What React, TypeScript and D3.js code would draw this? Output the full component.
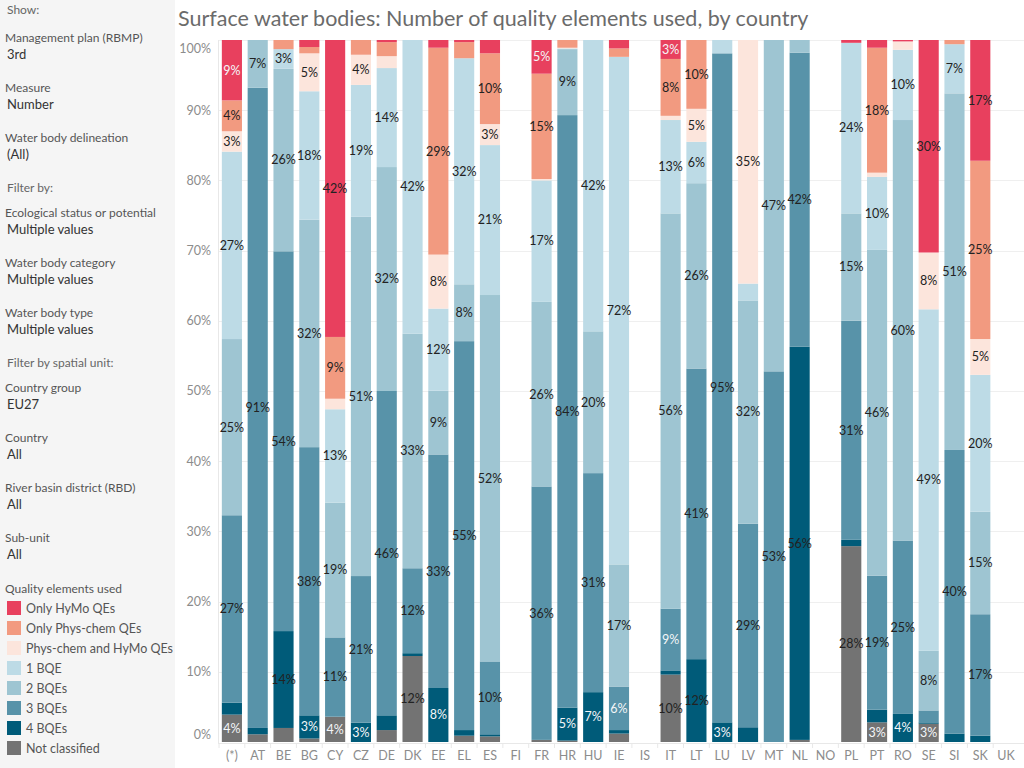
import React, { useEffect, useRef } from 'react';
import * as d3 from 'd3';

// Country codes along the x axis
const countries = [
  '(*)', 'AT', 'BE', 'BG', 'CY', 'CZ', 'DE', 'DK', 'EE', 'EL', 'ES', 'FI', 'FR', 'HR', 'HU', 'IE',
  'IS', 'IT', 'LT', 'LU', 'LV', 'MT', 'NL', 'NO', 'PL', 'PT', 'RO', 'SE', 'SI', 'SK', 'UK'
];

// Share of surface water bodies (%) per quality-element group, one value per country
const notClassified = [3.9, 1.1, 2.0, 0.5, 3.6, 0, 1.7, 12.25, 0, 0.9, 0.8, 0, 0.3, 0.2, 0, 1.2, 0, 9.6, 0, 0, 0, 0, 0.3, 0, 27.9, 2.8, 0, 2.6, 0, 0, 0];
const bqe4 = [1.7, 0.9, 13.8, 3.3, 0, 2.75, 2.1, 0.4, 7.7, 0.8, 0.3, 0, 0, 4.7, 7.1, 0.5, 0, 0.6, 11.8, 2.8, 2.1, 0, 56.0, 0, 0.9, 1.8, 4.0, 0.2, 1.2, 0.9, 0];
const bqe3 = [26.7, 91.2, 54.1, 38.2, 11.3, 20.9, 46.2, 12.1, 33.3, 55.4, 10.4, 0, 36.1, 84.4, 31.2, 6.2, 0, 8.8, 41.4, 95.3, 29.0, 52.8, 41.9, 0, 31.2, 19.1, 24.7, 1.7, 40.4, 17.3, 0];
const bqe2 = [25.1, 6.8, 26.0, 32.4, 19.2, 51.2, 31.9, 33.4, 9.1, 8.1, 52.3, 0, 26.3, 9.4, 20.2, 17.4, 0, 56.3, 26.4, 0, 31.8, 47.2, 1.8, 0, 15.3, 46.4, 59.9, 8.5, 50.8, 14.6, 0];
const bqe1 = [26.7, 0, 2.8, 18.3, 13.3, 18.8, 14.1, 41.85, 11.7, 32.2, 21.4, 0, 17.3, 0.1, 41.5, 72.3, 0, 13.3, 5.9, 1.9, 2.4, 0, 0, 0, 24.3, 10.4, 10.0, 48.7, 7.0, 19.5, 0];
const physChemHymo = [2.9, 0, 0, 5.4, 1.5, 4.3, 1.7, 0, 7.7, 0, 3.0, 0, 0.2, 0.1, 0, 0, 0, 0.6, 4.7, 0, 34.7, 0, 0, 0, 0, 0.6, 1.2, 8.1, 0, 5.1, 0];
const onlyPhysChem = [4.4, 0, 1.3, 0.9, 8.8, 2.1, 2.0, 0, 29.5, 2.3, 10.1, 0, 15.0, 1.1, 0, 1.2, 0, 8.1, 9.8, 0, 0, 0, 0, 0, 0, 17.8, 0, 0, 0.6, 25.4, 0];
const onlyHymo = [8.6, 0, 0, 1.0, 42.3, 0, 0.3, 0, 1.1, 0.3, 1.9, 0, 4.8, 0, 0, 1.2, 0, 2.7, 0, 0, 0, 0, 0, 0, 0.4, 1.1, 0.2, 30.3, 0, 17.2, 0];

const yTicks = [0, 10, 20, 30, 40, 50, 60, 70, 80, 90, 100];

// Stack order, bottom to top
const series = [
  { key: 'nc', name: 'Not classified', values: notClassified, color: '#737373', dark: true },
  { key: 'b4', name: '4 BQEs', values: bqe4, color: '#005b79', dark: true },
  { key: 'b3', name: '3 BQEs', values: bqe3, color: '#5893a9', dark: true },
  { key: 'b2', name: '2 BQEs', values: bqe2, color: '#9ec5d2', dark: false },
  { key: 'b1', name: '1 BQE', values: bqe1, color: '#bddbe6', dark: false },
  { key: 'ph', name: 'Phys-chem and HyMo QEs', values: physChemHymo, color: '#fce5dc', dark: false },
  { key: 'op', name: 'Only Phys-chem QEs', values: onlyPhysChem, color: '#f29a80', dark: false },
  { key: 'oh', name: 'Only HyMo QEs', values: onlyHymo, color: '#e8405e', dark: true },
];

const filterPanel = [
  { kind: 'head', text: 'Show:', y: 14 },
  { kind: 'label', text: 'Management plan (RBMP)', y: 42 },
  { kind: 'value', text: '3rd', y: 59 },
  { kind: 'label', text: 'Measure', y: 92 },
  { kind: 'value', text: 'Number', y: 109 },
  { kind: 'label', text: 'Water body delineation', y: 142 },
  { kind: 'value', text: '(All)', y: 159 },
  { kind: 'head', text: 'Filter by:', y: 192 },
  { kind: 'label', text: 'Ecological status or potential', y: 217 },
  { kind: 'value', text: 'Multiple values', y: 234 },
  { kind: 'label', text: 'Water body category', y: 267 },
  { kind: 'value', text: 'Multiple values', y: 284 },
  { kind: 'label', text: 'Water body type', y: 317 },
  { kind: 'value', text: 'Multiple values', y: 334 },
  { kind: 'head', text: 'Filter by spatial unit:', y: 367 },
  { kind: 'label', text: 'Country group', y: 392 },
  { kind: 'value', text: 'EU27', y: 409 },
  { kind: 'label', text: 'Country', y: 442 },
  { kind: 'value', text: 'All', y: 459 },
  { kind: 'label', text: 'River basin district (RBD)', y: 492 },
  { kind: 'value', text: 'All', y: 509 },
  { kind: 'label', text: 'Sub-unit', y: 542 },
  { kind: 'value', text: 'All', y: 559 },
  { kind: 'label', text: 'Quality elements used', y: 593 },
];

const FONT = 'Lato, "Open Sans", sans-serif';

const App: React.FC = () => {
  const svgRef = useRef<SVGSVGElement>(null);
  const width = 1024;
  const height = 768;

  useEffect(() => {
    if (!svgRef.current) return;
    const svg = d3.select(svgRef.current);
    svg.selectAll('*').remove();

    const plot = { left: 219, right: 1019, top: 40, bottom: 742 };

    // Left filter panel
    svg.append('rect')
      .attr('x', 0).attr('y', 0)
      .attr('width', 175).attr('height', height)
      .attr('fill', '#f5f5f5');

    svg.selectAll('.panel-text')
      .data(filterPanel)
      .enter()
      .append('text')
      .attr('class', 'panel-text')
      .attr('x', d => (d.kind === 'label' ? 5 : 7))
      .attr('y', d => d.y)
      .style('font-family', FONT)
      .style('font-size', d => (d.kind === 'value' ? '13px' : '12px'))
      .style('fill', d => (d.kind === 'value' ? '#333' : d.kind === 'head' ? '#666' : '#555'))
      .text(d => d.text);

    // Legend (top of stack first)
    const legend = svg.append('g').attr('transform', 'translate(7,601)');
    const legendItems = [...series].reverse();
    legendItems.forEach((s, i) => {
      legend.append('rect')
        .attr('x', 0).attr('y', i * 20)
        .attr('width', 14).attr('height', 14)
        .attr('fill', s.color);
      legend.append('text')
        .attr('x', 19).attr('y', i * 20 + 11.5)
        .style('font-family', FONT)
        .style('font-size', '12.5px')
        .style('fill', '#555')
        .text(s.name);
    });

    // Title
    svg.append('text')
      .attr('x', 178).attr('y', 26)
      .style('font-family', FONT)
      .style('font-size', '21.5px')
      .style('fill', '#6b6b6b')
      .text('Surface water bodies: Number of quality elements used, by country');

    // Scales
    const x = d3.scaleBand<string>()
      .domain(countries)
      .range([plot.left, plot.right])
      .paddingInner(0.22)
      .paddingOuter(0.11);

    const y = d3.scaleLinear()
      .domain([0, 100])
      .range([plot.bottom, plot.top]);

    // Gridlines
    svg.append('g')
      .selectAll('line')
      .data(yTicks.filter(t => t > 0))
      .enter()
      .append('line')
      .attr('x1', plot.left).attr('x2', width)
      .attr('y1', d => Math.round(y(d)) + 0.5)
      .attr('y2', d => Math.round(y(d)) + 0.5)
      .attr('stroke', '#efefef');

    // Y axis line and tick labels
    svg.append('line')
      .attr('x1', 218.5).attr('x2', 218.5)
      .attr('y1', plot.top).attr('y2', plot.bottom + 2)
      .attr('stroke', '#e8e8e8');

    svg.append('g')
      .selectAll('text')
      .data(yTicks)
      .enter()
      .append('text')
      .attr('x', 211)
      .attr('y', d => (d === 100 ? y(d) + 9 : d === 0 ? y(d) - 7 : y(d)))
      .attr('dy', '0.35em')
      .attr('text-anchor', 'end')
      .style('font-family', FONT)
      .style('font-size', '12.5px')
      .style('fill', '#8c8c8c')
      .text(d => `${d}%`);

    // Stacked bars (shares of each country's total)
    const rows = countries.map((c, i) => {
      const row: Record<string, any> = { country: c };
      series.forEach(s => { row[s.key] = s.values[i]; });
      return row;
    });

    const stacked = d3.stack<Record<string, any>>()
      .keys(series.map(s => s.key))
      .offset(d3.stackOffsetExpand)(rows);

    const bars = svg.append('g');
    stacked.forEach((layer, li) => {
      const s = series[li];
      bars.append('g')
        .selectAll('rect')
        .data(layer.filter(d => d[1] - d[0] > 0))
        .enter()
        .append('rect')
        .attr('x', d => x(d.data.country) as number)
        .attr('width', x.bandwidth())
        .attr('y', d => y(d[1] * 100))
        .attr('height', d => y(d[0] * 100) - y(d[1] * 100))
        .attr('fill', s.color);
    });

    // Segment labels
    const labels = svg.append('g');
    stacked.forEach((layer, li) => {
      const s = series[li];
      labels.append('g')
        .selectAll('text')
        .data(layer.filter(d => (d[1] - d[0]) * 100 >= 2.5))
        .enter()
        .append('text')
        .attr('x', d => (x(d.data.country) as number) + x.bandwidth() / 2)
        .attr('y', d => y(((d[0] + d[1]) / 2) * 100))
        .attr('dy', '0.35em')
        .attr('text-anchor', 'middle')
        .style('font-family', FONT)
        .style('font-size', '12.5px')
        .style('fill', d => (s.dark && (d[1] - d[0]) * 100 < 9.5 ? '#f4f6f8' : '#222'))
        .text(d => `${Math.round((d[1] - d[0]) * 100)}%`);
    });

    // X axis baseline, separators and labels
    svg.append('line')
      .attr('x1', plot.left).attr('x2', width)
      .attr('y1', 743.5).attr('y2', 743.5)
      .attr('stroke', '#e8e8e8');

    svg.append('g')
      .selectAll('line')
      .data(countries)
      .enter()
      .append('line')
      .attr('x1', d => (x(d) as number) - (x.step() - x.bandwidth()) / 2)
      .attr('x2', d => (x(d) as number) - (x.step() - x.bandwidth()) / 2)
      .attr('y1', 743).attr('y2', 748)
      .attr('stroke', '#e8e8e8');

    svg.append('g')
      .selectAll('text')
      .data(countries)
      .enter()
      .append('text')
      .attr('x', d => (x(d) as number) + x.bandwidth() / 2)
      .attr('y', 756)
      .attr('dy', '0.35em')
      .attr('text-anchor', 'middle')
      .style('font-family', FONT)
      .style('font-size', '12.5px')
      .style('fill', '#8c8c8c')
      .text(d => d);
  }, []);

  return (
    <svg
      ref={svgRef}
      width={width}
      height={height}
      style={{ position: 'absolute', left: 0, top: 0, background: '#fff' }}
    />
  );
};

export default App;
